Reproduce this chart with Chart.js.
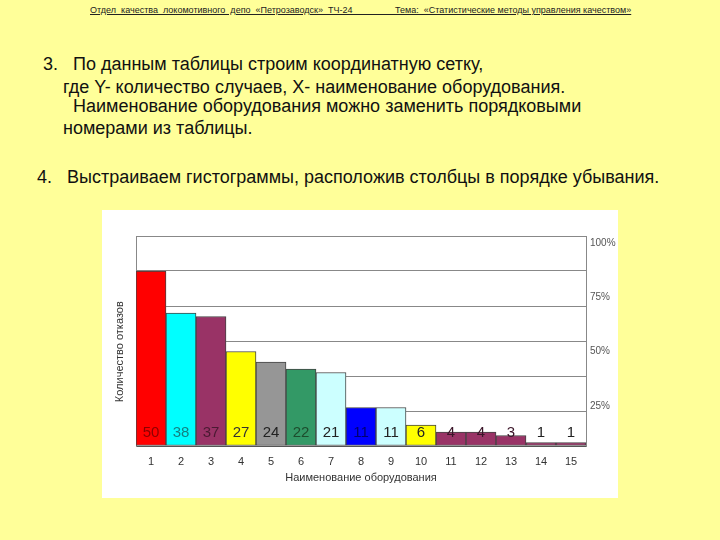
<!DOCTYPE html>
<html>
<head>
<meta charset="utf-8">
<script src="https://cdn.jsdelivr.net/npm/chart.js@4.4.1/dist/chart.umd.min.js"></script>
<style>
  body { margin: 0; width: 720px; height: 540px; background: #ffff99; position: relative; overflow: hidden;
         font-family: "Liberation Sans", Arial, sans-serif; color: #111; }
  .t { position: absolute; white-space: pre; font-size: 18px; line-height: 20px; }
  .head { position: absolute; left: 90px; top: 5px; font-size: 9px; line-height: 11px; white-space: pre;
          text-decoration: underline; color: #222; }
  #panel { position: absolute; left: 102px; top: 210px; width: 516px; height: 288px; background: #fff; }
</style>
</head>
<body>
<div class="head">Отдел  качества  локомотивного  депо  «Петрозаводск»  ТЧ-24                 Тема:  «Статистические методы управления качеством»</div>

<div class="t" style="left:43px;top:54px">3.   По данным таблицы строим координатную сетку,</div>
<div class="t" style="left:63px;top:77px">где Y- количество случаев, X- наименование оборудования.</div>
<div class="t" style="left:73px;top:96px">Наименование оборудования можно заменить порядковыми</div>
<div class="t" style="left:63px;top:118px">номерами из таблицы.</div>
<div class="t" style="left:37px;top:167px">4.   Выстраиваем гистограммы, расположив столбцы в порядке убывания.</div>

<div id="panel"><canvas id="pareto"></canvas></div>

<script>
// Данные диаграммы Парето
const equipment = ['1', '2', '3', '4', '5', '6', '7', '8', '9', '10', '11', '12', '13', '14', '15'];
const failures = [50, 38, 37, 27, 24, 22, 21, 11, 11, 6, 4, 4, 3, 1, 1];
const barColors = ['#ff0000', '#00ffff', '#993366', '#ffff00', '#969696', '#339966', '#ccffff', '#0000ff',
                   '#ccffff', '#ffff00', '#993366', '#993366', '#993366', '#993366', '#993366'];
const valueColors = ['#8b0000', '#138080', '#4a1a32', '#333333', '#222222', '#1d4d2d', '#222222', '#000070',
                     '#222222', '#222222', '#3a1428', '#3a1428', '#3a1428', '#222222', '#222222'];
const percentTicks = [25, 50, 75, 100];

// подписи значений внизу столбцов
const valueLabels = {
    id: 'valueLabels',
    afterDatasetsDraw(chart) {
        const ctx = chart.ctx;
        const meta = chart.getDatasetMeta(0);
        const y0 = chart.scales.y.getPixelForValue(0);
        ctx.save();
        ctx.font = '15px "Liberation Sans", Arial, sans-serif';
        ctx.textAlign = 'center';
        ctx.textBaseline = 'middle';
        meta.data.forEach((bar, i) => {
            ctx.fillStyle = valueColors[i];
            ctx.fillText(String(failures[i]), bar.x, y0 - 13);
        });
        ctx.restore();
    }
};

const axisFont = { family: '"Liberation Sans", Arial, sans-serif', size: 11 };

new Chart(document.getElementById('pareto'), {
    type: 'bar',
    data: {
        labels: equipment,
        datasets: [{
            data: failures,
            backgroundColor: barColors,
            borderColor: '#444',
            borderWidth: 1,
            borderSkipped: false,
            barPercentage: 1,
            categoryPercentage: 1,
            yAxisID: 'y'
        }]
    },
    options: {
        responsive: true,
        maintainAspectRatio: false,
        animation: false,
        devicePixelRatio: 1,
        layout: { padding: { top: 26, left: 0, right: 0, bottom: 0 } },
        plugins: {
            legend: { display: false },
            tooltip: { enabled: false }
        },
        scales: {
            x: {
                grid: { display: false, drawTicks: false },
                border: { display: true, color: '#555' },
                ticks: { color: '#333', font: axisFont, padding: 9 },
                title: { display: true, text: 'Наименование оборудования', color: '#333', font: axisFont,
                         padding: { top: 0, bottom: 13 } },
                afterFit(s) { s.height = 52; }
            },
            y: {
                position: 'left',
                min: 0,
                max: 60,
                ticks: { display: false, stepSize: 10 },
                grid: { color: '#888', drawTicks: false },
                border: { display: true, color: '#888' },
                // хвостовые пробелы сдвигают подпись чуть ниже, как в оригинале
                title: { display: true, text: 'Количество отказов       ', color: '#333', font: axisFont,
                         padding: { top: 11, bottom: 0 } },
                afterFit(s) { s.width = 34; }
            },
            pct: {
                position: 'right',
                min: 6.5,
                max: 103.2,
                afterBuildTicks(s) { s.ticks = percentTicks.map(v => ({ value: v })); },
                ticks: { color: '#555', font: { family: axisFont.family, size: 10 }, padding: 4,
                         callback: v => v + '%' },
                grid: { display: false, drawTicks: false },
                border: { display: true, color: '#888' },
                afterFit(s) { s.width = 32; }
            }
        }
    },
    plugins: [valueLabels]
});
</script>
</body>
</html>
